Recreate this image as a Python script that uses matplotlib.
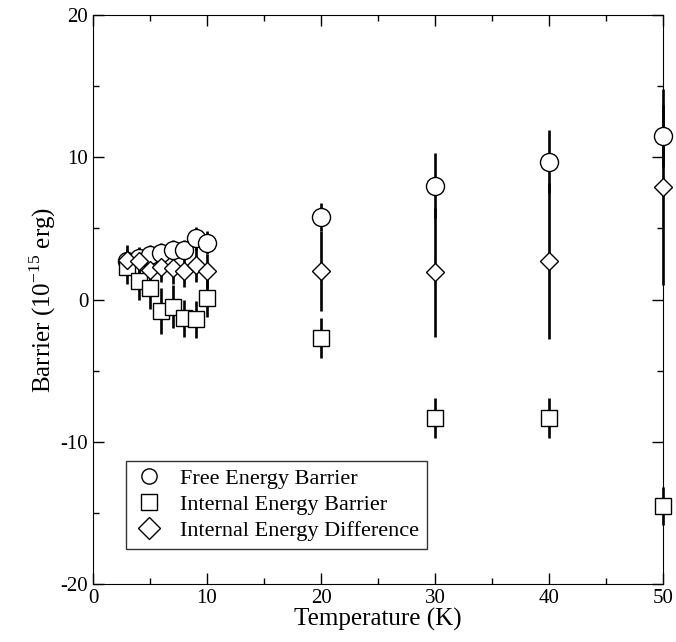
import matplotlib
matplotlib.use("Agg")
import matplotlib.pyplot as plt
from matplotlib.ticker import MultipleLocator

plt.rcParams["font.family"] = ["Liberation Serif", "DejaVu Serif"]
plt.rcParams["mathtext.fontset"] = "custom"
plt.rcParams["mathtext.rm"] = "Liberation Serif"
plt.rcParams["axes.unicode_minus"] = False

temps = [3, 4, 5, 6, 7, 8, 9, 10, 20, 30, 40, 50]

free_barrier = [2.7, 2.9, 3.1, 3.3, 3.5, 3.5, 4.3, 4.0, 5.8, 8.0, 9.7, 11.5]
free_err = [0.7, 0.7, 0.7, 0.7, 0.7, 0.7, 0.8, 0.8, 1.0, 2.3, 2.2, 2.2]

internal_barrier = [2.3, 1.3, 0.8, -0.8, -0.5, -1.3, -1.4, 0.1, -2.7, -8.3, -8.3, -14.5]
internal_err = [1.2, 1.3, 1.5, 1.6, 1.5, 1.3, 1.3, 1.3, 1.4, 1.4, 1.4, 1.35]

internal_diff = [2.8, 2.7, 2.1, 2.3, 2.2, 2.0, 2.4, 2.0, 2.0, 1.9, 2.7, 7.9]
diff_err = [1.0, 1.0, 1.0, 1.1, 1.1, 1.1, 1.2, 1.2, 2.8, 4.5, 5.5, 6.9]

fig = plt.figure(figsize=(6.76, 6.42), dpi=100)
ax = fig.add_axes([0.1376, 0.0903, 0.8432, 0.8863])

series = [
    (free_barrier, free_err, "o", 13, "Free Energy Barrier"),
    (internal_barrier, internal_err, "s", 11, "Internal Energy Barrier"),
    (internal_diff, diff_err, "D", 9, "Internal Energy Difference"),
]

for vals, errs, marker, ms, label in series:
    eb = ax.errorbar(temps, vals, yerr=errs, fmt="none", ecolor="black",
                     elinewidth=1.9, capsize=0, zorder=2)
    for c in eb.lines[2]:
        c.set_clip_on(False)
for vals, errs, marker, ms, label in series:
    ax.plot(temps, vals, linestyle="none", marker=marker, markersize=ms,
            markerfacecolor="white", markeredgecolor="black",
            markeredgewidth=1.0, label=label, zorder=3, clip_on=False)

ax.set_xlim(0, 50)
ax.set_ylim(-20, 20)
ax.xaxis.set_major_locator(MultipleLocator(10))
ax.xaxis.set_minor_locator(MultipleLocator(5))
ax.yaxis.set_major_locator(MultipleLocator(10))
ax.yaxis.set_minor_locator(MultipleLocator(5))
ax.tick_params(which="both", direction="in", top=True, right=True,
               labelsize=15)
ax.tick_params(which="major", length=8, width=1)
ax.tick_params(which="minor", length=4, width=1)

ax.set_xlabel("Temperature (K)", fontsize=18, labelpad=0)
ax.set_ylabel(r"Barrier (10$^{\mathrm{-15}}$ erg)", fontsize=18, labelpad=2)

leg = ax.legend(loc="lower left", bbox_to_anchor=(0.038, 0.042),
                fontsize=16, frameon=True, fancybox=False,
                edgecolor="black", handletextpad=0.7, borderpad=0.35,
                labelspacing=0.25, handlelength=1.4)
leg.get_frame().set_linewidth(1.0)
for h in leg.legend_handles:
    h.set_markersize(11)

fig.savefig("out.png", dpi=100)
